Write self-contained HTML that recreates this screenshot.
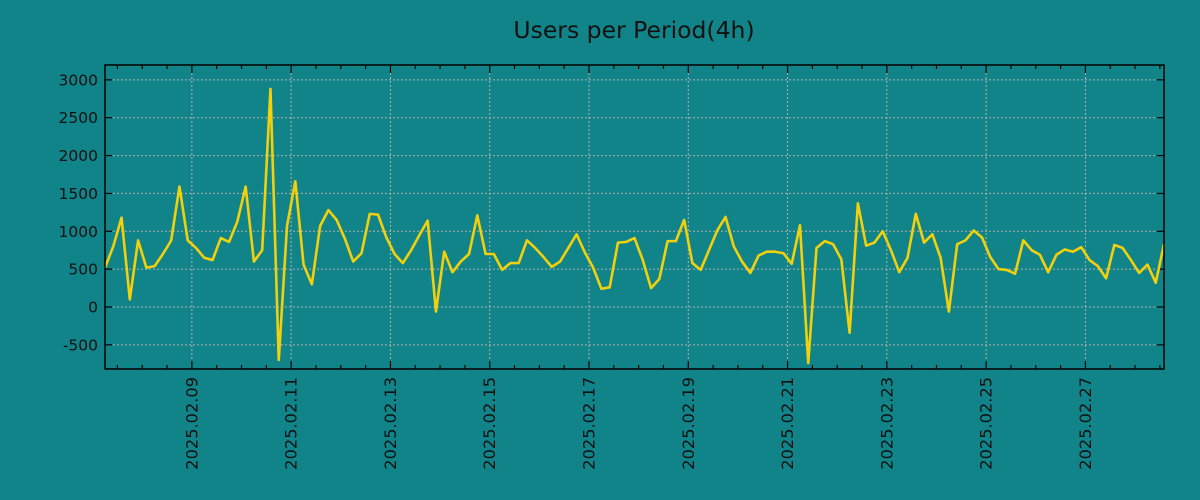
<!DOCTYPE html>
<html><head><meta charset="utf-8"><style>
html,body{margin:0;padding:0;background:#108488;}
svg{display:block;font-family:"DejaVu Sans","Liberation Sans",sans-serif;}
</style></head><body>
<svg id="chart" width="1200" height="500" viewBox="0 0 1200 500" xmlns="http://www.w3.org/2000/svg">
<rect width="1200" height="500" fill="#108488"/>
<text x="634" y="38" text-anchor="middle" font-size="23.5" fill="#111">Users per Period(4h)</text>
<g id="grid"></g>
<g id="axes"></g>
<g id="series"></g>
<rect x="105" y="65" width="1059" height="304" fill="none" stroke="#000" stroke-width="1.5"/>
</svg>
<script>
const startHour = 6; // first point: 2025-02-07 06:00
const stepHours = 4;
const userCounts = [520,800,1180,100,880,520,540,700,880,1590,880,780,650,620,910,860,1130,1590,600,750,2880,-700,1070,1660,560,300,1070,1280,1150,900,600,710,1230,1220,920,700,580,750,950,1140,-60,730,460,600,700,1210,700,700,490,580,580,880,780,660,530,600,780,960,720,520,240,260,850,860,910,620,250,370,870,870,1150,580,490,750,1010,1190,800,600,450,680,730,730,710,570,1080,-740,780,870,830,630,-340,1370,810,850,1000,750,460,650,1230,850,960,650,-60,830,880,1010,920,660,500,490,440,880,750,690,460,690,760,730,790,620,540,380,820,780,620,450,560,320,830];
const yTicks = [-500,0,500,1000,1500,2000,2500,3000];
const xTickLabels = ["2025.02.09","2025.02.11","2025.02.13","2025.02.15","2025.02.17","2025.02.19","2025.02.21","2025.02.23","2025.02.25","2025.02.27"];
const xTickDayOffsets = [2,4,6,8,10,12,14,16,18,20]; // days after 2025-02-07 00:00

const L=105,R=1164,T=65,B=369;
const hoursSpan=(userCounts.length-1)*stepHours;
function xScale(h){return L+(h-startHour)/hoursSpan*(R-L);}
function yScale(v){return 307-(v)*(265/3500);}
const NS="http://www.w3.org/2000/svg";
function mk(tag,attrs,parent){const e=document.createElementNS(NS,tag);for(const k in attrs)e.setAttribute(k,attrs[k]);parent.appendChild(e);return e;}
const grid=document.getElementById('grid'),axes=document.getElementById('axes'),series=document.getElementById('series');

yTicks.forEach(v=>{
  const y=yScale(v);
  const g=mk('line',{x1:L,x2:R,y1:y,y2:y,stroke:'#b0b0b0','stroke-width':1,'stroke-dasharray':'2,2'},grid);
  
  
  const t1=mk('line',{x1:L,x2:L+7,y1:y,y2:y,stroke:'#000','stroke-width':1.2},axes);
  
  
  const t2=mk('line',{x1:R-7,x2:R,y1:y,y2:y,stroke:'#000','stroke-width':1.2},axes);
  
  
  const lb=mk('text',{x:98,y:y+5.5,'text-anchor':'end','font-size':15.5,fill:'#111'},axes);
  lb.textContent=v;
  
  
});
for(let h=12;h<startHour+hoursSpan;h+=12){
  if(h<startHour) continue;
  const x=xScale(h);
  const major=(h%48===0);
  const len=major?8:4;
  const a=mk('line',{x1:x,x2:x,y1:B,y2:B-len,stroke:'#000','stroke-width':1.2},axes);
  
  
  const b=mk('line',{x1:x,x2:x,y1:T,y2:T+len,stroke:'#000','stroke-width':1.2},axes);
  
  
}
xTickDayOffsets.forEach((d,i)=>{
  const x=xScale(d*24);
  const g=mk('line',{x1:x,x2:x,y1:T,y2:B,stroke:'#b0b0b0','stroke-width':1,'stroke-dasharray':'2,2'},grid);
  
  
  const lb=mk('text',{x:0,y:0,'text-anchor':'end','font-size':16.2,fill:'#111',transform:`translate(${x+5.5},377) rotate(-90)`},axes);
  lb.textContent=xTickLabels[i];
  
  
});
const pts=userCounts.map((v,i)=>xScale(startHour+i*stepHours).toFixed(2)+','+yScale(v).toFixed(2)).join(' ');
const line=mk('polyline',{points:pts,fill:'none',stroke:'#f2d00c','stroke-width':2.6,'stroke-linejoin':'round'},series);


</script>
</body></html>
